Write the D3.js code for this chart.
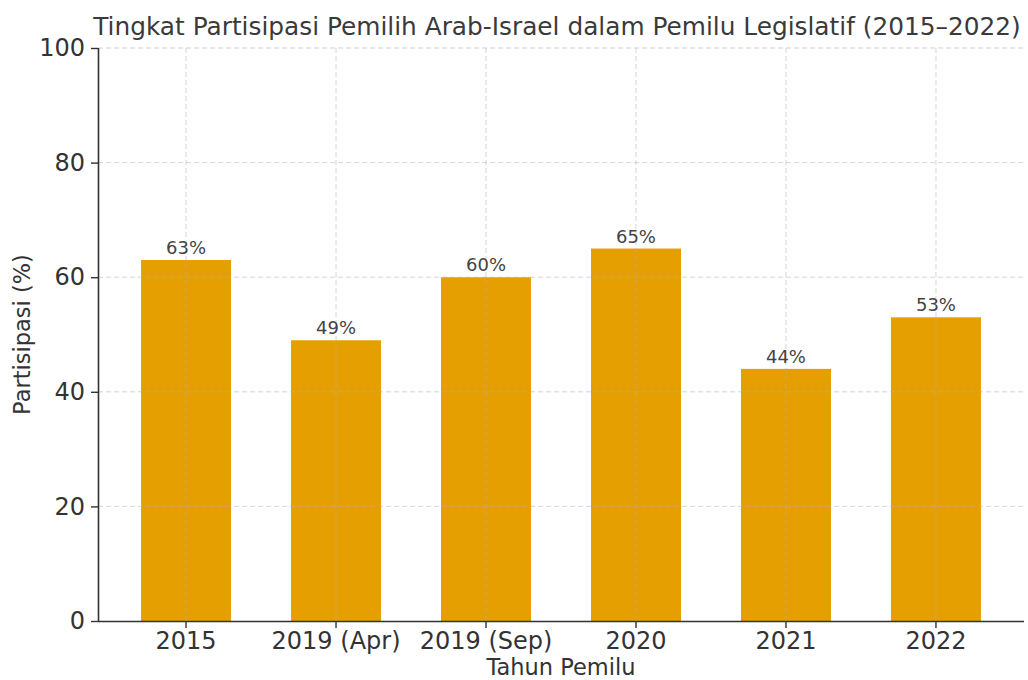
<!DOCTYPE html>
<html><head><meta charset="utf-8">
<script src="https://cdn.jsdelivr.net/npm/d3@7"></script>
<style>body{margin:0;background:#fff;}svg{display:block;font-family:"DejaVu Sans",sans-serif;}</style>
</head><body>
<svg id="c" width="1028" height="680"></svg>
<script>
const categories = ["2015","2019 (Apr)","2019 (Sep)","2020","2021","2022"];
const values = [63,49,60,65,44,53];
const yTicks = [0,20,40,60,80,100];
const title = "Tingkat Partisipasi Pemilih Arab-Israel dalam Pemilu Legislatif (2015–2022)";
const xLabel = "Tahun Pemilu";
const yLabel = "Partisipasi (%)";

const svg = d3.select("#c");
const L = 98, R = 1024, T = 48, B = 621;
const x = d3.scaleBand().domain(categories).range([L, R]).paddingInner(0.4).paddingOuter(0.287);
const y = d3.scaleLinear().domain([0,100]).range([B, T]);

// bars
svg.append("g").selectAll("rect").data(values).join("rect")
  .attr("x",(d,i)=>x(categories[i])).attr("width",x.bandwidth())
  .attr("y",d=>y(d)).attr("height",d=>B-y(d))
  .attr("fill","#E69F00");

// grid
const g = svg.append("g").attr("stroke","#b0b0b0").attr("stroke-opacity",0.6).attr("stroke-dasharray","5,3").attr("stroke-width",0.9);
g.selectAll("line.h").data(yTicks.filter(t=>t>0)).join("line")
  .attr("x1",L).attr("x2",R).attr("y1",d=>y(d)).attr("y2",d=>y(d));
g.selectAll("line.v").data(categories).join("line")
  .attr("x1",d=>x(d)+x.bandwidth()/2).attr("x2",d=>x(d)+x.bandwidth()/2).attr("y1",T).attr("y2",B);

// value labels
svg.append("g").selectAll("text").data(values).join("text")
  .attr("x",(d,i)=>x(categories[i])+x.bandwidth()/2).attr("y",d=>y(d)-6)
  .attr("text-anchor","middle").attr("font-size",18).attr("fill","#444")
  .text(d=>d+"%");

// axes
const ya = svg.append("g").attr("transform",`translate(${L},0)`)
  .call(d3.axisLeft(y).tickValues(yTicks).tickSize(7).tickPadding(6));
const xa = svg.append("g").attr("transform",`translate(0,${B})`)
  .call(d3.axisBottom(x).tickSize(7).tickPadding(4));
[ya,xa].forEach(a=>{
  a.select(".domain").attr("stroke","#333").attr("stroke-width",1.6);
  a.selectAll(".tick line").attr("stroke","#333").attr("stroke-width",1.4);
  a.selectAll(".tick text").attr("font-size",24).attr("fill","#333").attr("font-family","DejaVu Sans");
});
xa.select(".domain").attr("d",`M${L},0.5H${R}`);
ya.select(".domain").attr("d",`M0.5,${B}V${T}`);

svg.append("text").attr("x",(L+R)/2 - 4).attr("y",35).attr("text-anchor","middle")
  .attr("font-size",24.8).attr("fill","#3a3a3a").text(title);
svg.append("text").attr("x",(L+R)/2).attr("y",675).attr("text-anchor","middle")
  .attr("font-size",22.5).attr("fill","#333").text(xLabel);
svg.append("text").attr("transform",`translate(30,${(T+B)/2}) rotate(-90)`).attr("text-anchor","middle")
  .attr("font-size",22.5).attr("fill","#333").text(yLabel);
</script>
</body></html>
